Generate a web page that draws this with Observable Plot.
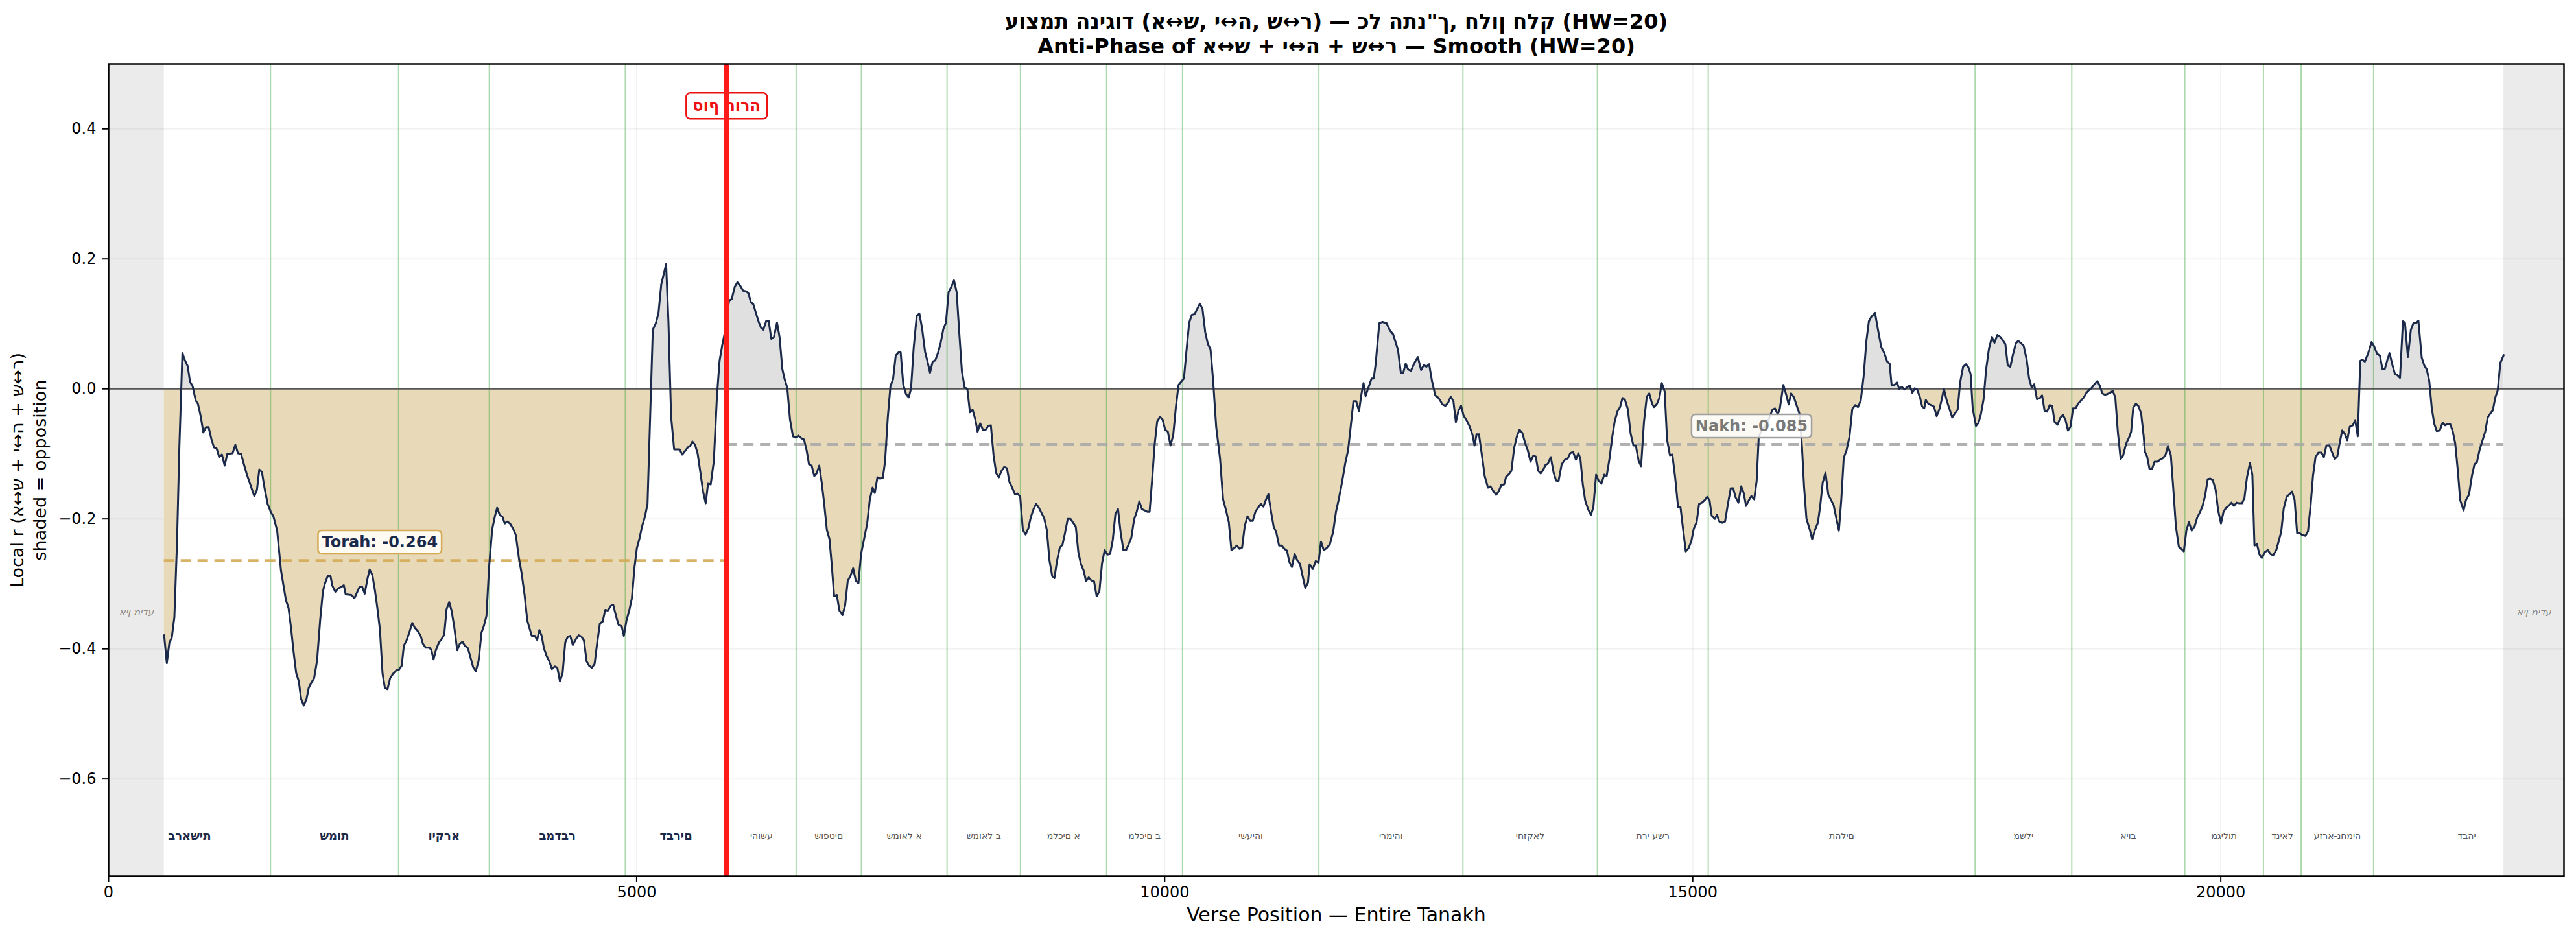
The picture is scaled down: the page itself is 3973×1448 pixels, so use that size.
<!DOCTYPE html>
<html><head><meta charset="utf-8">
<script src="https://cdn.jsdelivr.net/npm/d3@7"></script>
<script src="https://cdn.jsdelivr.net/npm/@observablehq/plot@0.6"></script>
<style>
html,body{margin:0;padding:0;background:#fff;}
svg text, svg tspan{unicode-bidi:bidi-override;direction:ltr;}
</style></head><body><div id="chart"></div>
<script>
const titleLines = ["עוצמת הניגוד (א↔ש, י↔ה, ש↔ר) — כל התנ\"ך, חלון חלק (HW=20)", "Anti-Phase of א↔ש + י↔ה + ש↔ר — Smooth (HW=20)"];
const yLabelLines = ["Local r (א↔ש + י↔ה + ש↔ר)", "shaded = opposition"];
const xLabel = "Verse Position — Entire Tanakh";
const noDataLabel = "אין מידע";
const torahEndLabel = "סוף תורה";
const torahBooks = ["בראשית","שמות","ויקרא","במדבר","דברים"];
const nakhBooks = ["יהושע","שופטים","שמואל א","שמואל ב","מלכים א","מלכים ב","ישעיהו","ירמיהו","יחזקאל","תרי עשר","תהלים","משלי","איוב","מגילות","דניאל","עזרא-נחמיה","דבהי"];
const bookEnds = [1533,2746,3605,4893,5852,6510,7128,7939,8634,9450,10169,11460,12824,14097,15147,17674,18589,19659,20404,20761,21447,23212];
const xTicks = [0,5000,10000,15000,20000];
const yTicks = [-0.6,-0.4,-0.2,0,0.2,0.4];
const torahEnd = 5852, dataStart = 526, dataEnd = 22680, xMax = 23250;
const torahMean = -0.264, nakhMean = -0.085;
const torahNote = [2568, -0.236], nakhNote = [15557, -0.0575], endNoteY = 0.435, bookLabelY = -0.688, noDataY = -0.344;

const curve = [
[526,-0.379],[551,-0.422],[576,-0.390],[598,-0.383],[623,-0.351],[648,-0.235],[670,-0.090],[699,0.055],[720,0.045],[749,0.035],
[771,0.011],[796,0.004],[825,-0.018],[846,-0.023],[872,-0.042],[897,-0.067],[922,-0.059],[947,-0.059],[973,-0.077],[998,-0.090],
[1023,-0.092],[1048,-0.105],[1073,-0.101],[1099,-0.118],[1124,-0.100],[1174,-0.099],[1200,-0.086],[1225,-0.099],[1254,-0.100],[1283,-0.117],
[1308,-0.131],[1333,-0.143],[1358,-0.155],[1380,-0.165],[1405,-0.155],[1427,-0.124],[1452,-0.128],[1477,-0.153],[1506,-0.177],[1535,-0.189],
[1560,-0.196],[1596,-0.218],[1632,-0.279],[1679,-0.325],[1704,-0.337],[1729,-0.370],[1751,-0.404],[1776,-0.437],[1801,-0.450],[1823,-0.477],
[1848,-0.487],[1874,-0.477],[1895,-0.460],[1920,-0.452],[1946,-0.445],[1974,-0.418],[2003,-0.356],[2029,-0.312],[2047,-0.300],[2075,-0.288],
[2101,-0.288],[2119,-0.303],[2147,-0.312],[2173,-0.307],[2201,-0.305],[2227,-0.302],[2245,-0.316],[2299,-0.317],[2328,-0.322],[2353,-0.313],
[2378,-0.304],[2400,-0.304],[2425,-0.315],[2450,-0.293],[2472,-0.278],[2497,-0.286],[2522,-0.310],[2544,-0.336],[2569,-0.370],[2594,-0.438],
[2616,-0.460],[2641,-0.462],[2666,-0.445],[2695,-0.438],[2724,-0.433],[2749,-0.432],[2775,-0.426],[2796,-0.395],[2821,-0.387],[2847,-0.375],
[2875,-0.360],[2901,-0.368],[2929,-0.373],[2955,-0.380],[2976,-0.392],[3002,-0.398],[3038,-0.398],[3056,-0.402],[3077,-0.416],[3099,-0.402],
[3128,-0.390],[3153,-0.385],[3178,-0.378],[3200,-0.339],[3225,-0.328],[3247,-0.341],[3272,-0.365],[3301,-0.402],[3326,-0.392],[3351,-0.389],
[3373,-0.395],[3402,-0.399],[3423,-0.411],[3452,-0.428],[3477,-0.434],[3503,-0.419],[3531,-0.375],[3553,-0.365],[3578,-0.349],[3603,-0.274],
[3632,-0.216],[3658,-0.196],[3679,-0.183],[3704,-0.194],[3730,-0.197],[3751,-0.207],[3776,-0.204],[3805,-0.208],[3830,-0.215],[3856,-0.225],
[3884,-0.259],[3910,-0.283],[3939,-0.317],[3964,-0.356],[3985,-0.368],[4007,-0.380],[4036,-0.380],[4058,-0.386],[4079,-0.371],[4101,-0.380],
[4122,-0.399],[4148,-0.411],[4173,-0.419],[4198,-0.431],[4223,-0.427],[4249,-0.429],[4274,-0.450],[4299,-0.437],[4324,-0.390],[4346,-0.382],
[4371,-0.380],[4396,-0.394],[4425,-0.385],[4451,-0.379],[4476,-0.381],[4501,-0.387],[4526,-0.419],[4551,-0.426],[4577,-0.429],[4602,-0.423],
[4627,-0.390],[4652,-0.361],[4678,-0.358],[4703,-0.340],[4728,-0.341],[4753,-0.334],[4778,-0.332],[4804,-0.349],[4829,-0.363],[4858,-0.365],
[4879,-0.380],[4904,-0.356],[4930,-0.341],[4955,-0.322],[4980,-0.274],[5002,-0.245],[5027,-0.230],[5052,-0.211],[5078,-0.197],[5103,-0.177],
[5128,-0.042],[5153,0.091],[5182,0.101],[5207,0.117],[5233,0.161],[5254,0.175],[5279,0.192],[5301,0.103],[5326,-0.042],[5355,-0.093],
[5380,-0.093],[5406,-0.093],[5431,-0.101],[5456,-0.096],[5485,-0.090],[5506,-0.088],[5528,-0.081],[5553,-0.086],[5578,-0.100],[5604,-0.129],
[5629,-0.158],[5654,-0.176],[5676,-0.146],[5701,-0.147],[5731,-0.111],[5760,-0.012],[5785,0.043],[5810,0.067],[5839,0.090],[5875,0.136],
[5900,0.138],[5929,0.157],[5954,0.164],[5983,0.158],[6008,0.151],[6037,0.150],[6059,0.147],[6080,0.134],[6105,0.130],[6127,0.118],
[6156,0.103],[6178,0.094],[6199,0.091],[6228,0.105],[6250,0.105],[6275,0.077],[6300,0.080],[6329,0.102],[6354,0.079],[6379,0.031],
[6401,0.015],[6426,0.002],[6452,-0.047],[6480,-0.073],[6506,-0.075],[6531,-0.072],[6560,-0.076],[6585,-0.078],[6610,-0.095],[6632,-0.116],
[6657,-0.118],[6682,-0.134],[6704,-0.130],[6729,-0.118],[6754,-0.146],[6776,-0.177],[6801,-0.217],[6826,-0.231],[6848,-0.272],[6870,-0.319],
[6895,-0.317],[6920,-0.341],[6949,-0.348],[6974,-0.333],[6999,-0.295],[7024,-0.288],[7050,-0.276],[7075,-0.295],[7100,-0.299],[7125,-0.254],
[7151,-0.233],[7183,-0.207],[7208,-0.170],[7234,-0.152],[7255,-0.160],[7280,-0.136],[7306,-0.138],[7331,-0.137],[7352,-0.112],[7378,-0.044],
[7403,0.004],[7428,0.015],[7453,0.051],[7479,0.056],[7500,0.056],[7525,0.006],[7551,-0.008],[7576,-0.013],[7598,0.000],[7623,0.063],
[7652,0.112],[7677,0.116],[7702,0.094],[7731,0.057],[7753,0.043],[7778,0.025],[7803,0.042],[7828,0.044],[7853,0.055],[7879,0.071],
[7904,0.092],[7929,0.102],[7954,0.149],[7980,0.157],[8005,0.167],[8030,0.149],[8055,0.086],[8080,0.027],[8106,0.002],[8131,0.000],
[8156,-0.036],[8181,-0.032],[8207,-0.047],[8228,-0.066],[8253,-0.053],[8279,-0.063],[8304,-0.063],[8329,-0.057],[8354,-0.056],[8380,-0.103],
[8405,-0.130],[8430,-0.136],[8455,-0.126],[8481,-0.120],[8506,-0.122],[8531,-0.144],[8556,-0.152],[8582,-0.162],[8607,-0.161],[8632,-0.166],
[8657,-0.217],[8683,-0.224],[8708,-0.215],[8733,-0.197],[8758,-0.185],[8783,-0.177],[8809,-0.183],[8834,-0.191],[8859,-0.199],[8884,-0.217],
[8909,-0.264],[8935,-0.288],[8956,-0.291],[8981,-0.264],[9007,-0.244],[9032,-0.240],[9057,-0.221],[9082,-0.200],[9108,-0.200],[9133,-0.206],
[9158,-0.212],[9183,-0.252],[9208,-0.270],[9234,-0.280],[9255,-0.296],[9281,-0.290],[9306,-0.295],[9331,-0.296],[9356,-0.319],[9382,-0.311],
[9407,-0.268],[9432,-0.248],[9457,-0.255],[9483,-0.254],[9508,-0.233],[9533,-0.193],[9558,-0.185],[9583,-0.221],[9609,-0.248],[9634,-0.248],
[9659,-0.239],[9684,-0.229],[9710,-0.201],[9735,-0.189],[9760,-0.173],[9785,-0.185],[9811,-0.187],[9836,-0.189],[9857,-0.189],[9882,-0.138],
[9904,-0.087],[9929,-0.050],[9955,-0.043],[9980,-0.047],[10005,-0.063],[10030,-0.066],[10055,-0.087],[10081,-0.071],[10106,-0.028],[10131,0.006],
[10156,0.011],[10182,0.016],[10207,0.060],[10232,0.102],[10257,0.114],[10283,0.115],[10308,0.123],[10333,0.131],[10358,0.123],[10384,0.087],
[10409,0.069],[10434,0.061],[10459,0.012],[10488,-0.059],[10524,-0.107],[10553,-0.170],[10578,-0.185],[10607,-0.205],[10632,-0.248],[10657,-0.245],
[10683,-0.241],[10708,-0.246],[10733,-0.244],[10758,-0.211],[10784,-0.196],[10809,-0.203],[10834,-0.203],[10859,-0.189],[10884,-0.183],[10910,-0.177],
[10935,-0.181],[10960,-0.170],[10982,-0.162],[11007,-0.189],[11032,-0.212],[11057,-0.221],[11083,-0.241],[11108,-0.241],[11133,-0.246],[11158,-0.249],
[11180,-0.266],[11205,-0.274],[11230,-0.254],[11256,-0.264],[11281,-0.269],[11306,-0.288],[11331,-0.306],[11357,-0.298],[11372,-0.270],[11403,-0.277],
[11430,-0.265],[11457,-0.267],[11480,-0.235],[11506,-0.248],[11533,-0.245],[11564,-0.239],[11595,-0.220],[11622,-0.189],[11648,-0.170],[11679,-0.144],
[11710,-0.114],[11737,-0.094],[11764,-0.054],[11787,-0.019],[11813,-0.019],[11840,-0.034],[11863,-0.008],[11883,0.009],[11902,-0.011],[11929,0.002],
[11959,0.016],[11979,0.016],[11998,0.039],[12032,0.101],[12063,0.103],[12101,0.101],[12132,0.090],[12163,0.084],[12186,0.072],[12209,0.060],
[12236,0.025],[12259,0.025],[12282,0.039],[12305,0.030],[12332,0.028],[12362,0.039],[12397,0.049],[12428,0.029],[12454,0.037],[12477,0.034],
[12504,0.038],[12531,0.012],[12562,-0.010],[12593,-0.014],[12631,-0.024],[12658,-0.026],[12685,-0.021],[12708,-0.012],[12734,-0.019],[12757,-0.051],
[12781,-0.034],[12807,-0.026],[12830,-0.041],[12861,-0.049],[12888,-0.058],[12915,-0.071],[12934,-0.087],[12953,-0.070],[12976,-0.070],[13003,-0.101],
[13030,-0.134],[13061,-0.152],[13084,-0.150],[13107,-0.156],[13138,-0.163],[13164,-0.157],[13187,-0.148],[13214,-0.147],[13233,-0.135],[13260,-0.131],
[13283,-0.126],[13310,-0.090],[13337,-0.072],[13360,-0.063],[13387,-0.068],[13414,-0.084],[13437,-0.094],[13464,-0.112],[13490,-0.103],[13513,-0.104],
[13537,-0.126],[13560,-0.130],[13583,-0.125],[13606,-0.117],[13629,-0.115],[13656,-0.105],[13683,-0.129],[13706,-0.141],[13729,-0.142],[13759,-0.116],
[13790,-0.109],[13817,-0.107],[13840,-0.099],[13867,-0.097],[13894,-0.109],[13917,-0.099],[13936,-0.107],[13959,-0.147],[13982,-0.172],[14009,-0.185],
[14036,-0.194],[14059,-0.182],[14085,-0.132],[14108,-0.141],[14135,-0.146],[14162,-0.132],[14185,-0.134],[14212,-0.107],[14235,-0.077],[14262,-0.049],
[14289,-0.034],[14312,-0.028],[14335,-0.014],[14358,-0.017],[14385,-0.031],[14412,-0.069],[14438,-0.087],[14461,-0.087],[14488,-0.111],[14511,-0.119],
[14538,-0.051],[14565,-0.012],[14588,-0.007],[14615,-0.023],[14634,-0.028],[14661,-0.023],[14684,-0.014],[14707,0.009],[14734,-0.004],[14757,-0.078],
[14784,-0.102],[14807,-0.101],[14834,-0.137],[14861,-0.182],[14884,-0.182],[14911,-0.219],[14934,-0.250],[14961,-0.245],[14987,-0.234],[15010,-0.215],
[15037,-0.205],[15060,-0.177],[15087,-0.175],[15114,-0.171],[15137,-0.166],[15160,-0.172],[15179,-0.195],[15210,-0.200],[15229,-0.194],[15252,-0.204],
[15279,-0.206],[15306,-0.204],[15333,-0.177],[15360,-0.153],[15383,-0.153],[15406,-0.167],[15432,-0.175],[15459,-0.150],[15482,-0.160],[15505,-0.180],
[15529,-0.172],[15555,-0.165],[15582,-0.170],[15605,-0.142],[15625,-0.074],[15651,-0.064],[15701,-0.054],[15755,-0.032],[15778,-0.030],[15805,-0.039],
[15824,-0.031],[15858,0.006],[15885,-0.009],[15908,-0.024],[15931,-0.007],[15958,-0.013],[15985,-0.026],[16016,-0.041],[16035,-0.091],[16054,-0.150],
[16077,-0.200],[16104,-0.214],[16131,-0.231],[16157,-0.217],[16185,-0.206],[16207,-0.180],[16231,-0.144],[16257,-0.129],[16284,-0.163],[16307,-0.170],
[16334,-0.179],[16361,-0.200],[16384,-0.218],[16407,-0.170],[16430,-0.106],[16457,-0.094],[16484,-0.074],[16511,-0.031],[16538,-0.025],[16565,-0.028],
[16591,-0.018],[16618,0.019],[16645,0.075],[16668,0.104],[16691,0.111],[16726,0.117],[16753,0.092],[16784,0.065],[16814,0.055],[16841,0.042],
[16864,0.039],[16883,0.006],[16910,0.006],[16933,0.010],[16956,0.000],[16979,0.003],[17006,-0.001],[17033,0.003],[17056,0.005],[17079,-0.006],
[17102,0.001],[17125,-0.001],[17152,-0.013],[17172,-0.027],[17192,-0.030],[17207,-0.017],[17231,-0.023],[17259,-0.025],[17283,-0.027],[17310,-0.042],
[17334,-0.032],[17358,-0.016],[17378,0.000],[17405,-0.018],[17429,-0.030],[17457,-0.044],[17481,-0.038],[17508,-0.032],[17532,0.010],[17560,0.034],
[17587,0.038],[17611,0.033],[17631,0.023],[17651,-0.030],[17682,-0.057],[17706,-0.052],[17730,-0.038],[17754,-0.016],[17778,0.030],[17805,0.062],
[17833,0.080],[17857,0.071],[17884,0.083],[17912,0.080],[17936,0.075],[17960,0.069],[17983,0.036],[18007,0.034],[18031,0.052],[18059,0.070],
[18082,0.074],[18110,0.070],[18134,0.066],[18162,0.045],[18185,0.016],[18209,0.002],[18233,0.007],[18260,-0.016],[18288,-0.014],[18308,-0.010],
[18332,-0.034],[18356,-0.035],[18379,-0.025],[18403,-0.026],[18427,-0.051],[18455,-0.055],[18478,-0.045],[18506,-0.040],[18530,-0.048],[18553,-0.064],
[18577,-0.058],[18601,-0.030],[18625,-0.030],[18648,-0.023],[18676,-0.018],[18704,-0.013],[18728,-0.006],[18751,-0.002],[18775,0.001],[18803,0.007],
[18831,0.012],[18854,0.005],[18878,-0.007],[18902,-0.009],[18926,-0.008],[18953,-0.006],[18977,-0.003],[19001,-0.013],[19025,-0.066],[19052,-0.108],
[19076,-0.102],[19104,-0.084],[19131,-0.075],[19151,-0.066],[19171,-0.029],[19195,-0.023],[19219,-0.026],[19246,-0.038],[19270,-0.073],[19282,-0.097],
[19302,-0.104],[19325,-0.123],[19349,-0.123],[19373,-0.112],[19401,-0.112],[19424,-0.109],[19448,-0.107],[19476,-0.102],[19500,-0.088],[19527,-0.102],
[19551,-0.155],[19575,-0.212],[19603,-0.243],[19626,-0.246],[19650,-0.250],[19674,-0.218],[19698,-0.205],[19725,-0.218],[19753,-0.211],[19777,-0.198],
[19805,-0.189],[19828,-0.180],[19852,-0.164],[19876,-0.139],[19900,-0.138],[19923,-0.140],[19951,-0.155],[19975,-0.187],[20002,-0.207],[20026,-0.189],
[20050,-0.183],[20074,-0.180],[20101,-0.175],[20125,-0.180],[20149,-0.175],[20173,-0.176],[20201,-0.176],[20224,-0.168],[20248,-0.136],[20276,-0.114],
[20299,-0.132],[20319,-0.241],[20343,-0.239],[20367,-0.255],[20390,-0.260],[20418,-0.251],[20446,-0.248],[20470,-0.254],[20497,-0.256],[20525,-0.248],
[20549,-0.234],[20572,-0.220],[20596,-0.184],[20624,-0.166],[20652,-0.162],[20675,-0.158],[20699,-0.171],[20723,-0.222],[20747,-0.222],[20774,-0.225],
[20802,-0.226],[20826,-0.219],[20850,-0.180],[20873,-0.134],[20897,-0.105],[20925,-0.098],[20953,-0.098],[20976,-0.105],[21000,-0.087],[21028,-0.087],
[21052,-0.097],[21079,-0.108],[21103,-0.104],[21127,-0.082],[21150,-0.064],[21174,-0.069],[21198,-0.079],[21222,-0.058],[21250,-0.056],[21273,-0.048],
[21297,-0.073],[21321,0.043],[21341,0.045],[21364,0.042],[21396,0.055],[21428,0.072],[21451,0.066],[21479,0.054],[21507,0.051],[21530,0.031],
[21554,0.031],[21578,0.045],[21598,0.055],[21625,0.037],[21649,0.023],[21673,0.021],[21697,0.017],[21725,0.104],[21744,0.102],[21772,0.049],
[21800,0.091],[21824,0.101],[21848,0.101],[21871,0.105],[21903,0.048],[21927,0.036],[21951,0.030],[21974,0.012],[21998,-0.030],[22022,-0.054],
[22045,-0.065],[22073,-0.064],[22101,-0.052],[22124,-0.056],[22148,-0.054],[22172,-0.054],[22196,-0.065],[22220,-0.084],[22243,-0.123],[22267,-0.171],
[22299,-0.187],[22322,-0.171],[22350,-0.163],[22378,-0.134],[22402,-0.116],[22425,-0.113],[22449,-0.095],[22477,-0.080],[22504,-0.066],[22528,-0.044],
[22552,-0.038],[22576,-0.033],[22600,-0.013],[22623,-0.002],[22647,0.040],[22679,0.052]
];

const pts = curve.map(([x, r]) => ({x, r}));
const books = [...torahBooks, ...nakhBooks].map((name, i) => ({name, start: i ? bookEnds[i - 1] : 0, end: bookEnds[i], torah: i < torahBooks.length}));
const bands = [{x1: 0, x2: dataStart}, {x1: dataEnd, x2: xMax}];
const FONT = "DejaVu Sans";

const plot = Plot.plot({
  width: 3973, height: 1448,
  marginLeft: 167, marginRight: 19, marginTop: 98, marginBottom: 97,
  x: {domain: [0, xMax], label: null},
  y: {domain: [-0.75, 0.5], label: null},
  style: {fontFamily: FONT, fontSize: "24px", background: "#fff", color: "#000", overflow: "visible"},
  marks: [
    Plot.rect(bands, {x1: "x1", x2: "x2", fill: "#ebebeb"}),
    Plot.gridX(xTicks, {stroke: "#000", strokeOpacity: 0.05, strokeWidth: 2}),
    Plot.gridY(yTicks, {stroke: "#000", strokeOpacity: 0.05, strokeWidth: 2}),
    Plot.areaY(pts, {x: "x", y1: 0, y2: "r", fill: "#e0e0e0", ariaDescription: "pos-fill"}),
    Plot.areaY(pts, {x: "x", y1: 0, y2: "r", fill: "#e8d9b8", ariaDescription: "neg-fill"}),
    Plot.ruleX(books.filter(b => b.end !== torahEnd && b.end < dataEnd), {x: "end", stroke: "#2ca02c", strokeOpacity: 0.4, strokeWidth: 2}),
    Plot.ruleY([0], {stroke: "#555", strokeWidth: 2}),
    Plot.ruleY([torahMean], {x1: dataStart, x2: torahEnd, stroke: "#d4aa55", strokeOpacity: 0.9, strokeWidth: 4, strokeDasharray: "16,10"}),
    Plot.ruleY([nakhMean], {x1: torahEnd, x2: dataEnd, stroke: "#a8a8a8", strokeOpacity: 0.9, strokeWidth: 4, strokeDasharray: "16,10"}),
    Plot.line(pts, {x: "x", y: "r", stroke: "#1b2a4a", strokeWidth: 3}),
    Plot.text([torahEndLabel], {x: torahEnd, y: endNoteY, fill: "#ee1111", fontSize: 24, fontWeight: "bold", ariaDescription: "box-end"}),
    Plot.ruleX([torahEnd], {stroke: "#ff1a1a", strokeWidth: 8}),
    Plot.text(books.filter(b => b.torah), {x: b => (b.start + b.end) / 2, y: bookLabelY, text: "name", fill: "#1b2a4a", fontSize: 18, fontWeight: "bold"}),
    Plot.text(books.filter(b => !b.torah), {x: b => (b.start + b.end) / 2, y: bookLabelY, text: "name", fill: "#555", fontSize: 14}),
    Plot.text(bands, {x: b => (b.x1 + b.x2) / 2, y: noDataY, text: () => noDataLabel, fill: "#888", fontSize: 15, fontStyle: "italic"}),
    Plot.text([`Torah: ${torahMean}`], {x: torahNote[0], y: torahNote[1], fill: "#1b2a4a", fontSize: 24, fontWeight: "bold", ariaDescription: "box-torah"}),
    Plot.text([`Nakh: ${nakhMean}`], {x: nakhNote[0], y: nakhNote[1], fill: "#7a7a7a", fontSize: 24, fontWeight: "bold", ariaDescription: "box-nakh"}),
    Plot.axisX(xTicks, {tickSize: 9, tickPadding: 6, strokeWidth: 2, tickFormat: d3.format("d"), fontSize: 24, label: null}),
    Plot.axisY(yTicks, {tickSize: 9, tickPadding: 10, strokeWidth: 2, tickFormat: d3.format(".1f"), fontSize: 24, label: null}),
    Plot.frame({stroke: "#000", strokeWidth: 2.5}),
    Plot.text([titleLines[0]], {frameAnchor: "top", dy: -65, lineAnchor: "middle", textAnchor: "middle", fontSize: 32, fontWeight: "bold"}),
    Plot.text([titleLines[1]], {frameAnchor: "top", dy: -27, lineAnchor: "middle", textAnchor: "middle", fontSize: 32, fontWeight: "bold"}),
    Plot.text([xLabel], {frameAnchor: "bottom", dy: 60, lineAnchor: "middle", textAnchor: "middle", fontSize: 30}),
    Plot.text([yLabelLines[0]], {frameAnchor: "left", dx: -140, rotate: -90, lineAnchor: "middle", textAnchor: "middle", fontSize: 27}),
    Plot.text([yLabelLines[1]], {frameAnchor: "left", dx: -105, rotate: -90, lineAnchor: "middle", textAnchor: "middle", fontSize: 27})
  ]
});
document.getElementById("chart").appendChild(plot);

// clip the two fills at the zero line (sign-dependent shading)
const NS = "http://www.w3.org/2000/svg";
const y0 = plot.scale("y").apply(0);
const defs = document.createElementNS(NS, "defs");
function addClip(id, y, h) {
  const cp = document.createElementNS(NS, "clipPath"); cp.setAttribute("id", id);
  const r = document.createElementNS(NS, "rect");
  r.setAttribute("x", 0); r.setAttribute("y", y); r.setAttribute("width", 3973); r.setAttribute("height", h);
  cp.appendChild(r); defs.appendChild(cp);
}
addClip("clipPos", 0, y0);
addClip("clipNeg", y0, 1448 - y0);
plot.insertBefore(defs, plot.firstChild);
plot.querySelector('g[aria-description="pos-fill"]').setAttribute("clip-path", "url(#clipPos)");
plot.querySelector('g[aria-description="neg-fill"]').setAttribute("clip-path", "url(#clipNeg)");

// boxes behind annotation texts
function boxText(desc, fill, fillOpacity, stroke, padX, padY) {
  plot.querySelectorAll(`g[aria-description="${desc}"] text`).forEach(t => {
    const bb = t.getBBox();
    const r = document.createElementNS(NS, "rect");
    r.setAttribute("x", bb.x - padX); r.setAttribute("y", bb.y - padY);
    r.setAttribute("width", bb.width + 2 * padX); r.setAttribute("height", bb.height + 2 * padY);
    r.setAttribute("rx", 6); r.setAttribute("ry", 6);
    r.setAttribute("fill", fill); r.setAttribute("fill-opacity", fillOpacity);
    r.setAttribute("stroke", stroke); r.setAttribute("stroke-width", 2.5);
    if (t.getAttribute("transform")) r.setAttribute("transform", t.getAttribute("transform"));
    t.parentNode.insertBefore(r, t);
  });
}
boxText("box-end", "#ffffff", 0.9, "#ee1111", 10, 6);
boxText("box-torah", "#fffdf6", 0.95, "#d4aa55", 6, 4);
boxText("box-nakh", "#ffffff", 0.85, "#a0a0a0", 6, 4);
</script></body></html>
